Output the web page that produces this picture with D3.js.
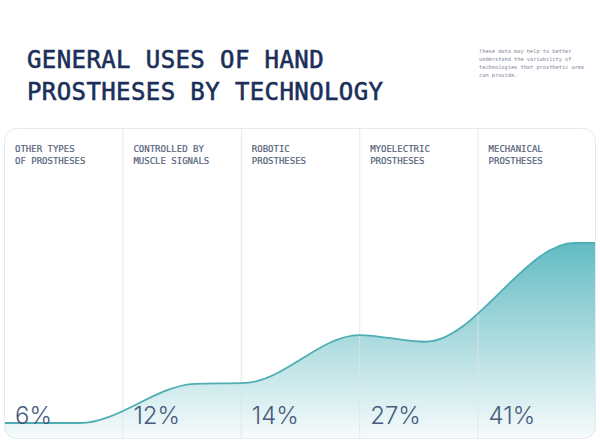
<!DOCTYPE html>
<html>
<head>
<meta charset="utf-8">
<script src="https://cdn.jsdelivr.net/npm/d3@7"></script>
<style>
  body { margin: 0; background: #fff; }
  svg { display: block; }
</style>
</head>
<body>
<svg id="chart"></svg>
<script>
// categories and their shares
var categories = [
    ["OTHER TYPES", "OF PROSTHESES"],
    ["CONTROLLED BY", "MUSCLE SIGNALS"],
    ["ROBOTIC", "PROSTHESES"],
    ["MYOELECTRIC", "PROSTHESES"],
    ["MECHANICAL", "PROSTHESES"]
];
var shares = [6, 12, 14, 27, 41];

// shape of the decorative curve (column position, level in %)
var curveCols = [0, 0.64, 1.61, 2.04, 3.0, 3.56, 4.82, 5];
var curveLevels = [6, 6, 13.6, 13.8, 23.1, 21.8, 41, 41];

var titleLines = ["GENERAL USES OF HAND", "PROSTHESES BY TECHNOLOGY"];
var noteLines = [
    "These data may help to better",
    "understand the variability of",
    "technologies that prosthetic arms",
    "can provide."
];

var width = 600;
var height = 442;

var card = { left: 4, right: 596, top: 128, bottom: 439, r: 12 };

var svg = d3.select("#chart")
    .attr("width", width)
    .attr("height", height);

var defs = svg.append("defs");

var x = d3.scaleLinear()
    .domain([0, categories.length])
    .range([card.left, card.right]);

var y = d3.scaleLinear()
    .domain([6, 41])
    .range([423, 243]);

// title
svg.append("g")
    .selectAll("text")
    .data(titleLines)
    .enter().append("text")
    .attr("x", 27)
    .attr("y", function (d, i) { return 68 + i * 32; })
    .style("font-family", "'DejaVu Sans Mono', monospace")
    .style("font-size", "24px")
    .style("letter-spacing", "0.4px")
    .style("fill", "#1b2f5a")
    .style("stroke", "#1b2f5a")
    .style("stroke-width", 0.6)
    .text(function (d) { return d; });

// side note
svg.append("g")
    .selectAll("text")
    .data(noteLines)
    .enter().append("text")
    .attr("x", 479)
    .attr("y", function (d, i) { return 53 + i * 8; })
    .style("font-family", "'DejaVu Sans Mono', monospace")
    .style("font-size", "5.3px")
    .style("fill", "#7d8696")
    .text(function (d) { return d; });

// card clip
defs.append("clipPath")
    .attr("id", "cardClip")
    .append("rect")
    .attr("x", card.left)
    .attr("y", card.top)
    .attr("width", card.right - card.left)
    .attr("height", card.bottom - card.top)
    .attr("rx", card.r);

var grad = defs.append("linearGradient")
    .attr("id", "fillGrad")
    .attr("gradientUnits", "userSpaceOnUse")
    .attr("x1", 0).attr("x2", 0)
    .attr("y1", y(41)).attr("y2", card.bottom);
grad.append("stop").attr("offset", "0%").attr("stop-color", "#5bb8c0").attr("stop-opacity", 0.95);
grad.append("stop").attr("offset", "100%").attr("stop-color", "#5bb8c0").attr("stop-opacity", 0.05);

var pts = curveCols.map(function (c, i) { return [c, curveLevels[i]]; });

var area = d3.area()
    .x(function (d) { return x(d[0]); })
    .y0(card.bottom)
    .y1(function (d) { return y(d[1]); })
    .curve(d3.curveMonotoneX);

var line = d3.line()
    .x(function (d) { return x(d[0]); })
    .y(function (d) { return y(d[1]); })
    .curve(d3.curveMonotoneX);

var plot = svg.append("g").attr("clip-path", "url(#cardClip)");

plot.append("path")
    .datum(pts)
    .attr("d", area)
    .style("fill", "url(#fillGrad)");

// column dividers
plot.selectAll(".divider")
    .data(d3.range(1, categories.length))
    .enter().append("line")
    .attr("class", "divider")
    .attr("x1", function (d) { return x(d) + 0.5; })
    .attr("x2", function (d) { return x(d) + 0.5; })
    .attr("y1", card.top)
    .attr("y2", card.bottom)
    .style("stroke", "#dfe3e8")
    .style("stroke-opacity", 0.8)
    .style("stroke-width", 1);

plot.append("path")
    .datum(pts)
    .attr("d", line)
    .style("fill", "none")
    .style("stroke", "#4eaeb4")
    .style("stroke-width", 1.8);

// card border
svg.append("rect")
    .attr("x", card.left + 0.5)
    .attr("y", card.top + 0.5)
    .attr("width", card.right - card.left - 1)
    .attr("height", card.bottom - card.top - 1)
    .attr("rx", card.r)
    .style("fill", "none")
    .style("stroke", "#e6e9ed")
    .style("stroke-width", 1);

// column labels
var col = svg.selectAll(".col")
    .data(categories)
    .enter().append("g")
    .attr("class", "col")
    .attr("transform", function (d, i) { return "translate(" + (x(i) + 11) + ",0)"; });

col.append("text")
    .attr("y", 152)
    .style("font-family", "'DejaVu Sans Mono', monospace")
    .style("font-size", "9px")
    .style("fill", "#56627a")
    .style("stroke", "#56627a")
    .style("stroke-width", 0.2)
    .selectAll("tspan")
    .data(function (d) { return d; })
    .enter().append("tspan")
    .attr("x", 0)
    .attr("dy", function (d, i) { return i === 0 ? 0 : 11.5; })
    .text(function (d) { return d; });

col.append("text")
    .attr("y", 424)
    .style("font-family", "Inter, sans-serif")
    .style("font-weight", 300)
    .style("font-size", "24px")
    .style("fill", "#485b7e")
    .text(function (d, i) { return shares[i] + "%"; });
</script>
</body>
</html>
